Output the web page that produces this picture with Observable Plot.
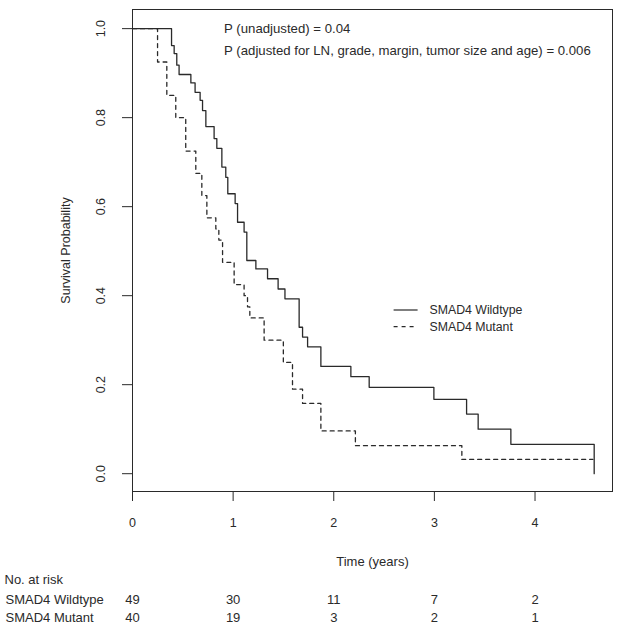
<!DOCTYPE html>
<html>
<head>
<meta charset="utf-8">
<script src="https://cdn.jsdelivr.net/npm/d3@7"></script>
<script src="https://cdn.jsdelivr.net/npm/@observablehq/plot@0.6"></script>
<style>
  html, body { margin: 0; padding: 0; background: #fff; overflow: hidden; }
  svg { display: block; }
</style>
</head>
<body>
<div id="chart"></div>
<script>
// ---- data ----
const groups = ["SMAD4 Wildtype", "SMAD4 Mutant"];

const wildTime = [0, 0.388, 0.414, 0.440, 0.463, 0.580, 0.622, 0.672, 0.696, 0.729, 0.811, 0.838, 0.888, 0.927, 0.947, 1.020, 1.044, 1.109, 1.136, 1.226, 1.342, 1.447, 1.515, 1.656, 1.690, 1.740, 1.872, 2.170, 2.352, 2.995, 3.320, 3.435, 3.760, 4.588];
const wildSurv = [1, 0.962, 0.944, 0.918, 0.897, 0.878, 0.857, 0.839, 0.816, 0.780, 0.753, 0.731, 0.689, 0.666, 0.629, 0.607, 0.565, 0.543, 0.479, 0.460, 0.438, 0.415, 0.393, 0.329, 0.307, 0.285, 0.241, 0.218, 0.194, 0.167, 0.134, 0.100, 0.066, 0];

const mutTime = [0, 0.249, 0.341, 0.430, 0.529, 0.629, 0.689, 0.739, 0.828, 0.858, 0.895, 1.010, 1.109, 1.143, 1.166, 1.308, 1.499, 1.590, 1.690, 1.872, 2.215, 3.273, 4.575];
const mutSurv = [1, 0.925, 0.850, 0.800, 0.725, 0.675, 0.625, 0.575, 0.550, 0.525, 0.475, 0.425, 0.400, 0.375, 0.350, 0.300, 0.250, 0.190, 0.158, 0.096, 0.063, 0.032, 0.032];

const xTicks = [0, 1, 2, 3, 4];
const yTicks = [0, 0.2, 0.4, 0.6, 0.8, 1.0];
const yTickLabels = ["0.0", "0.2", "0.4", "0.6", "0.8", "1.0"];

const riskWild = [49, 30, 11, 7, 2];
const riskMut = [40, 19, 3, 2, 1];

const pTexts = ["P (unadjusted) = 0.04", "P (adjusted for LN, grade, margin, tumor size and age) = 0.006"];

// ---- build tables ----
const wild = wildTime.map((t, i) => ({t, s: wildSurv[i], g: groups[0]}));
const mut = mutTime.map((t, i) => ({t, s: mutSurv[i], g: groups[1]}));

const INK = "#2a2a2a";
const FONT = "'Liberation Sans', Arial, Helvetica, sans-serif";

function legend(index, scales, values, dims) {
  const g = d3.create("svg:g")
    .attr("font-family", FONT).attr("font-size", 12.3)
    .attr("fill", INK).attr("text-anchor", "start");
  const left = dims.marginLeft, top = dims.marginTop;
  const rows = [
    {label: groups[0], dash: null, y: top + 301},
    {label: groups[1], dash: "4,4", y: top + 317.7}
  ];
  for (const r of rows) {
    g.append("line")
      .attr("x1", left + 261.6).attr("x2", left + 285.6)
      .attr("y1", r.y).attr("y2", r.y)
      .attr("stroke", INK).attr("stroke-width", 1.2)
      .attr("stroke-dasharray", r.dash);
    g.append("text")
      .attr("x", left + 297.5).attr("y", r.y)
      .attr("dy", "0.35em")
      .attr("text-anchor", "start")
      .text(r.label);
  }
  return g.node();
}

const chart = Plot.plot({
  width: 624,
  height: 634,
  marginLeft: 132,
  marginRight: 12,
  marginTop: 9,
  marginBottom: 143,
  style: {fontFamily: FONT, fontSize: "13px", color: INK, background: "#fff"},
  x: {domain: [0, 4.77], axis: null},
  y: {domain: [-0.04, 1.043], axis: null},
  marks: [
    Plot.frame({stroke: INK, strokeWidth: 1}),
    Plot.axisX({ticks: xTicks, tickSize: 10, tickFormat: () => "", label: null, stroke: INK}),
    Plot.axisY({ticks: yTicks, tickSize: 10, tickFormat: () => "", label: null, stroke: INK}),
    Plot.text(xTicks, {x: d => d, text: d => String(d), frameAnchor: "bottom", dy: 31, lineAnchor: "middle", fontSize: 12.5, fill: INK}),
    Plot.text(yTicks, {y: d => d, text: (d, i) => yTickLabels[i], frameAnchor: "left", dx: -32, rotate: -90, textAnchor: "middle", lineAnchor: "middle", fontSize: 12.5, fill: INK}),
    Plot.text(["Survival Probability"], {frameAnchor: "left", dx: -67, rotate: -90, textAnchor: "middle", lineAnchor: "middle", fontSize: 12.5, fill: INK}),
    Plot.text(["Time (years)"], {frameAnchor: "bottom", dy: 70.7, lineAnchor: "middle", fontSize: 13, fill: INK}),
    Plot.text(["No. at risk"], {frameAnchor: "bottom-left", dx: -128, dy: 88.3, textAnchor: "start", lineAnchor: "middle", fontSize: 13, fill: INK}),
    Plot.text([groups[0]], {frameAnchor: "bottom-left", dx: -127, dy: 108.3, textAnchor: "start", lineAnchor: "middle", fontSize: 13, fill: INK}),
    Plot.text([groups[1]], {frameAnchor: "bottom-left", dx: -127, dy: 126.7, textAnchor: "start", lineAnchor: "middle", fontSize: 13, fill: INK}),
    Plot.text(xTicks, {x: d => d, text: (d, i) => String(riskWild[i]), frameAnchor: "bottom", dy: 108.3, lineAnchor: "middle", fontSize: 13, fill: INK}),
    Plot.text(xTicks, {x: d => d, text: (d, i) => String(riskMut[i]), frameAnchor: "bottom", dy: 126.7, lineAnchor: "middle", fontSize: 13, fill: INK}),
    Plot.text([pTexts[0]], {frameAnchor: "top-left", dx: 91.6, dy: 19.3, textAnchor: "start", lineAnchor: "middle", fontSize: 13.2, fill: INK}),
    Plot.text([pTexts[1]], {frameAnchor: "top-left", dx: 91.6, dy: 41, textAnchor: "start", lineAnchor: "middle", fontSize: 13.2, fill: INK}),
    Plot.line(wild, {x: "t", y: "s", curve: "step-after", stroke: INK, strokeWidth: 1.3}),
    Plot.line(mut, {x: "t", y: "s", curve: "step-after", stroke: INK, strokeWidth: 1.3, strokeDasharray: "4,4"}),
    legend
  ]
});

document.getElementById("chart").appendChild(chart);
</script>
</body>
</html>
